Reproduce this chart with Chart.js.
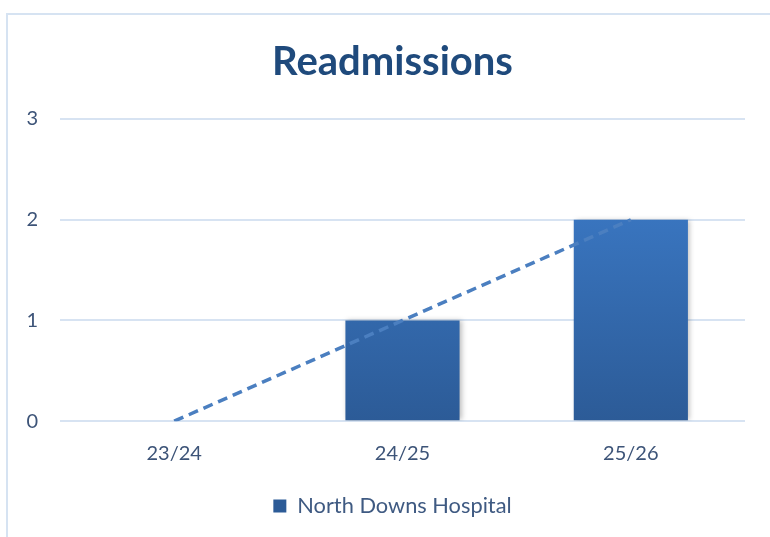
<!DOCTYPE html>
<html>
<head>
<meta charset="utf-8">
<title>Readmissions</title>
<script src="https://cdn.jsdelivr.net/npm/chart.js@4/dist/chart.umd.min.js"></script>
<style>
  html, body { margin: 0; padding: 0; background: #fff; }
  #wrap { position: relative; width: 770px; height: 537px; overflow: hidden; }
  #frame { position: absolute; left: 6px; top: 13px; width: 800px; height: 600px;
           border-top: 2px solid #d6e3f2; border-left: 2px solid #d6e3f2; }
  canvas { position: absolute; left: 0; top: 0; }
</style>
</head>
<body>
<div id="wrap">
  <div id="frame"></div>
  <canvas id="readmChart" width="785" height="537"></canvas>
</div>
<script>
const years = ['23/24', '24/25', '25/26'];
const readmissions = [0, 1, 2];
const trendValues = [0, 1, 2];
const yTicks = [0, 1, 2, 3];

const ctx = document.getElementById('readmChart').getContext('2d');

// vertical gradient for bars, built once the chart area is known
function barGradient(context) {
    const { chart } = context;
    const area = chart.chartArea;
    if (!area) return '#3a78c4';
    const g = chart.ctx.createLinearGradient(0, area.top, 0, area.bottom);
    g.addColorStop(0, '#3f81d2');
    g.addColorStop(1, '#2c5b97');
    return g;
}

// soft shadow on the right side of the bars
const barShadow = {
    id: 'barShadow',
    beforeDatasetDraw(chart, args) {
        if (args.index !== 0) return;
        chart.ctx.save();
        chart.ctx.shadowColor = 'rgba(0, 0, 0, 0.25)';
        chart.ctx.shadowBlur = 5;
        chart.ctx.shadowOffsetX = 2;
    },
    afterDatasetDraw(chart, args) {
        if (args.index !== 0) return;
        chart.ctx.restore();
    }
};

const tickColor = '#3d5478';
const gridColor = '#d7e3f2';

new Chart(ctx, {
    type: 'bar',
    data: {
        labels: years,
        datasets: [
            {
                label: 'North Downs Hospital',
                data: readmissions,
                backgroundColor: barGradient,
                borderWidth: 0,
                barPercentage: 0.5,
                categoryPercentage: 1,
                order: 1
            },
            {
                type: 'line',
                label: 'Trend',
                data: trendValues,
                borderColor: '#4b7fc0',
                borderWidth: 3.5,
                borderDash: [10, 6],
                pointRadius: 0,
                fill: false,
                tension: 0,
                order: 0
            }
        ]
    },
    plugins: [barShadow],
    options: {
        responsive: false,
        animation: false,
        layout: {
            padding: { top: 0, right: 0, bottom: 10, left: 0 }
        },
        plugins: {
            title: {
                display: true,
                text: 'Readmissions',
                color: '#1f4a7c',
                font: { family: 'Lato', size: 40, weight: 'bold' },
                padding: { top: 38, bottom: 33 }
            },
            legend: {
                position: 'bottom',
                labels: {
                    filter: item => item.datasetIndex === 0,
                    color: '#3f5a82',
                    font: { family: 'Lato', size: 21.8 },
                    boxWidth: 13,
                    boxHeight: 13,
                    padding: 10
                }
            },
            tooltip: { enabled: false }
        },
        scales: {
            x: {
                grid: { display: false, drawTicks: false },
                border: { display: false },
                ticks: {
                    color: tickColor,
                    font: { family: 'Lato', size: 20 },
                    padding: 20
                }
            },
            y: {
                min: 0,
                max: 3,
                afterFit: scale => { scale.width = 60; },
                afterBuildTicks: scale => { scale.ticks = yTicks.map(v => ({ value: v })); },
                grid: { color: gridColor, lineWidth: 2, drawTicks: false },
                border: { display: false },
                ticks: {
                    color: tickColor,
                    font: { family: 'Lato', size: 20 },
                    padding: 22
                }
            },
            // empty right margin so title and legend sit centred over the frame
            yRight: {
                position: 'right',
                min: 0,
                max: 3,
                afterFit: scale => { scale.width = 40; },
                grid: { display: false, drawTicks: false },
                border: { display: false },
                ticks: { display: false }
            }
        }
    }
});
</script>
</body>
</html>
